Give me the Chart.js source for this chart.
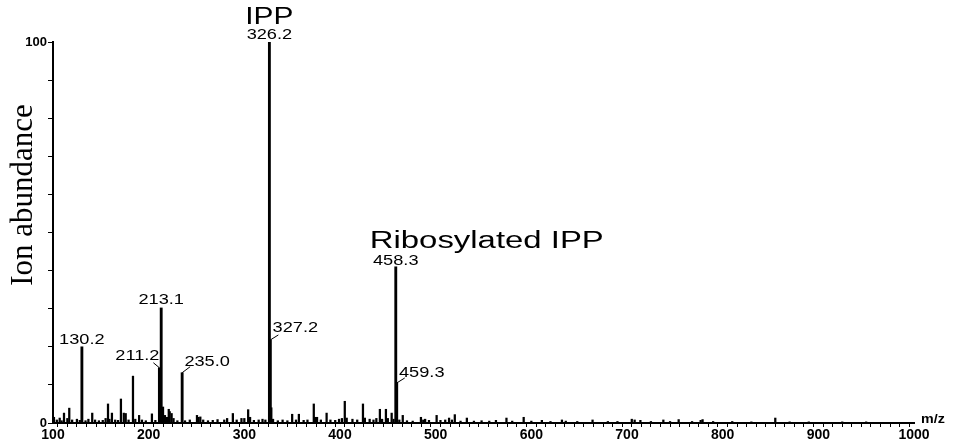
<!DOCTYPE html>
<html>
<head>
<meta charset="utf-8">
<script src="https://cdn.jsdelivr.net/npm/chart.js@4"></script>
<style>
  html, body { margin: 0; padding: 0; background: #fff; }
  #spectrum { display: block; }
</style>
</head>
<body>
<canvas id="spectrum" width="953" height="445"></canvas>
<script>
// Labelled peaks (m/z, relative abundance %)
const peakMz = [130.2, 211.2, 213.1, 235.0, 326.2, 327.2, 458.3, 459.3];
const peakAbundance = [20.0, 14.5, 30.2, 13.2, 100, 21.8, 41.0, 10.5];

// Minor ions along the baseline
const minorMz = [
  101, 104, 107, 109, 111.5, 115, 117, 120, 125, 128, 134, 137, 141, 144, 148, 152, 155,
  157.5, 159, 161.6, 165, 168, 171, 174, 176, 179, 183.6, 186, 190, 193, 197, 203.4, 207,
  215, 217, 219, 221, 222, 224, 226, 230, 238, 243, 250.5, 252, 254, 257, 262, 267, 272,
  279, 282, 288, 292, 297, 300, 304, 306, 310, 315, 319, 322, 328.2, 330, 335, 340, 345,
  350, 354, 357, 362, 366, 372.6, 374, 376, 380, 386, 390, 395, 399, 402, 405, 407, 413,
  418, 424, 426, 431, 435, 438, 441.7, 444, 448, 450, 454, 456, 462, 465.6, 470, 476,
  484.6, 487, 489, 493, 501, 505, 510, 514, 517, 520, 526, 532.6, 540, 548, 556, 563,
  574, 580, 592, 600, 611, 620, 632, 636, 648, 664, 680, 690, 705, 708, 714, 725, 738,
  745, 754, 768, 777, 779, 790, 810, 830, 855, 870, 890, 925, 950
];
const minorAbundance = [
  1.5, 0.8, 1.3, 0.6, 2.6, 1.2, 3.9, 0.8, 1.0, 0.7, 0.6, 1.0, 2.6, 0.8, 0.6, 0.7, 1.2,
  5.0, 1.0, 2.6, 0.8, 0.7, 6.3, 2.6, 2.5, 0.8, 12.3, 1.0, 2.0, 0.8, 0.6, 2.4, 0.7,
  4.2, 2.0, 1.5, 3.6, 3.0, 2.5, 1.2, 0.6, 0.6, 0.8, 2.0, 1.5, 1.6, 0.8, 0.6, 0.7, 0.9,
  0.8, 1.2, 2.5, 0.8, 1.2, 1.2, 3.5, 1.5, 0.7, 0.8, 1.0, 0.8, 4.0, 1.0, 0.6, 0.8, 0.6,
  2.3, 0.8, 2.3, 0.7, 0.8, 5.0, 1.5, 1.5, 0.8, 2.6, 0.8, 0.7, 1.0, 1.2, 5.7, 1.3, 1.0,
  0.8, 5.0, 1.3, 1.0, 0.8, 1.2, 3.6, 1.0, 3.6, 1.2, 2.6, 1.0, 0.8, 2.0, 0.6, 0.5,
  1.5, 0.8, 1.0, 0.7, 2.0, 0.7, 0.8, 1.3, 0.8, 2.2, 0.5, 1.3, 0.5, 0.6, 0.5, 0.7,
  1.3, 0.5, 1.5, 0.5, 0.7, 0.4, 0.8, 0.5, 0.4, 0.8, 0.4, 0.4, 1.0, 0.8, 0.7, 0.4, 0.8,
  0.4, 0.9, 0.4, 0.7, 0.9, 0.4, 0.4, 0.3, 1.3, 0.3, 0.3, 0.3, 0.3
];

const xMin = 100, xMax = 1000;
const yTitle = "Ion abundance";
const xTitle = "m/z";

// Compound names written above their peaks
const compoundNames = [
  { mz: 326.2, name: "IPP" },
  { mz: 458.3, name: "Ribosylated IPP" }
];

// Where each peak's m/z label sits, relative to the top of its peak
const labelPlacement = {
  130.2: { dx: 0, dy: -7 },
  211.2: { dx: -22, dy: -12, leader: [-6, -5] },
  213.1: { dx: 0, dy: -8 },
  235.0: { dx: 25, dy: -11, leader: [8, -6] },
  326.2: { dx: 0, dy: -7 },
  327.2: { dx: 25, dy: -12, leader: [8, -5] },
  458.3: { dx: 0, dy: -6 },
  459.3: { dx: 25, dy: -10, leader: [8, -5] }
};

const toPoints = (xs, ys) => xs.map((x, i) => ({ x: x, y: ys[i] }));

// Text drawn a little wider than the font, like the instrument printout
function wideText(ctx, text, x, y, stretch) {
  ctx.save();
  ctx.translate(x, y);
  ctx.scale(stretch, 1);
  ctx.fillText(text, 0, 0);
  ctx.restore();
}

const annotations = {
  id: "annotations",
  afterDatasetsDraw(chart) {
    const ctx = chart.ctx;
    const xs = chart.scales.x, ys = chart.scales.y;
    ctx.save();
    ctx.fillStyle = "#000";
    ctx.strokeStyle = "#000";
    ctx.lineWidth = 1;
    ctx.textAlign = "center";
    ctx.textBaseline = "middle";

    // m/z labels with their leader lines
    ctx.font = "14px 'Liberation Sans', Arial, sans-serif";
    peakMz.forEach((mz, i) => {
      const px = xs.getPixelForValue(mz);
      const py = ys.getPixelForValue(peakAbundance[i]);
      const p = labelPlacement[mz];
      if (p.leader) {
        ctx.beginPath();
        ctx.moveTo(px, py);
        ctx.lineTo(px + p.leader[0], py + p.leader[1]);
        ctx.stroke();
      }
      wideText(ctx, mz.toFixed(1), px + p.dx, py + p.dy, 1.3);
    });

    // compound names
    ctx.font = "23px 'Liberation Sans', Arial, sans-serif";
    compoundNames.forEach(c => {
      const i = peakMz.indexOf(c.mz);
      const px = xs.getPixelForValue(c.mz);
      const py = ys.getPixelForValue(peakAbundance[i]);
      if (c.name.length > 5) {
        const stretch = 1.43;
        const w = ctx.measureText(c.name).width * stretch;
        wideText(ctx, c.name, px - 26 + w / 2, py - 25, stretch);
      } else {
        wideText(ctx, c.name, px, py - 24, 1.3);
      }
    });

    // "%" beside the y axis at half scale
    ctx.font = "bold 12px 'Liberation Sans', Arial, sans-serif";
    ctx.save();
    ctx.translate(ys.left - 12, ys.getPixelForValue(50));
    ctx.rotate(-Math.PI / 2);
    ctx.fillText("%", 0, 0);
    ctx.restore();

    // axis titles
    ctx.font = "31px 'Liberation Serif', 'Times New Roman', serif";
    ctx.save();
    ctx.translate(24, 195);
    ctx.rotate(-Math.PI / 2);
    ctx.fillText(yTitle, 0, 0);
    ctx.restore();

    ctx.font = "bold 13px 'Liberation Sans', Arial, sans-serif";
    ctx.textAlign = "left";
    wideText(ctx, xTitle, xs.right + 7, ys.bottom - 4, 1.1);
    ctx.restore();
  }
};

new Chart(document.getElementById("spectrum"), {
  type: "bar",
  data: {
    datasets: [
      {
        data: toPoints(minorMz, minorAbundance),
        backgroundColor: "#000",
        barThickness: 1.6,
        grouped: false
      },
      {
        data: toPoints(peakMz, peakAbundance),
        backgroundColor: "#000",
        barThickness: 2.2,
        grouped: false
      }
    ]
  },
  options: {
    responsive: false,
    animation: false,
    devicePixelRatio: 1,
    layout: { padding: { top: 42, right: 39, bottom: 0, left: 0 } },
    plugins: { legend: { display: false }, tooltip: { enabled: false } },
    scales: {
      x: {
        type: "linear",
        min: xMin,
        max: xMax,
        offset: false,
        afterFit: s => { s.height = 22; },
        grid: { drawOnChartArea: false, tickLength: 4, color: "#000", tickWidth: 1 },
        border: { color: "#000", width: 2 },
        ticks: {
          stepSize: 10,
          autoSkip: false,
          maxRotation: 0,
          padding: 0,
          color: "#000",
          font: { family: "'Liberation Sans', Arial, sans-serif", size: 14, weight: "bold" },
          callback: v => (v % 100 === 0 ? String(v) : "")
        }
      },
      y: {
        min: 0,
        max: 100,
        afterFit: s => { s.width = 53; },
        grid: { drawOnChartArea: false, tickLength: 5, color: "#000", tickWidth: 1 },
        border: { color: "#000", width: 2 },
        ticks: {
          stepSize: 10,
          autoSkip: false,
          padding: 1,
          color: "#000",
          font: { family: "'Liberation Sans', Arial, sans-serif", size: 13, weight: "bold" },
          callback: v => (v === 0 || v === 100 ? String(v) : "")
        }
      }
    }
  },
  plugins: [annotations]
});
</script>
</body>
</html>
